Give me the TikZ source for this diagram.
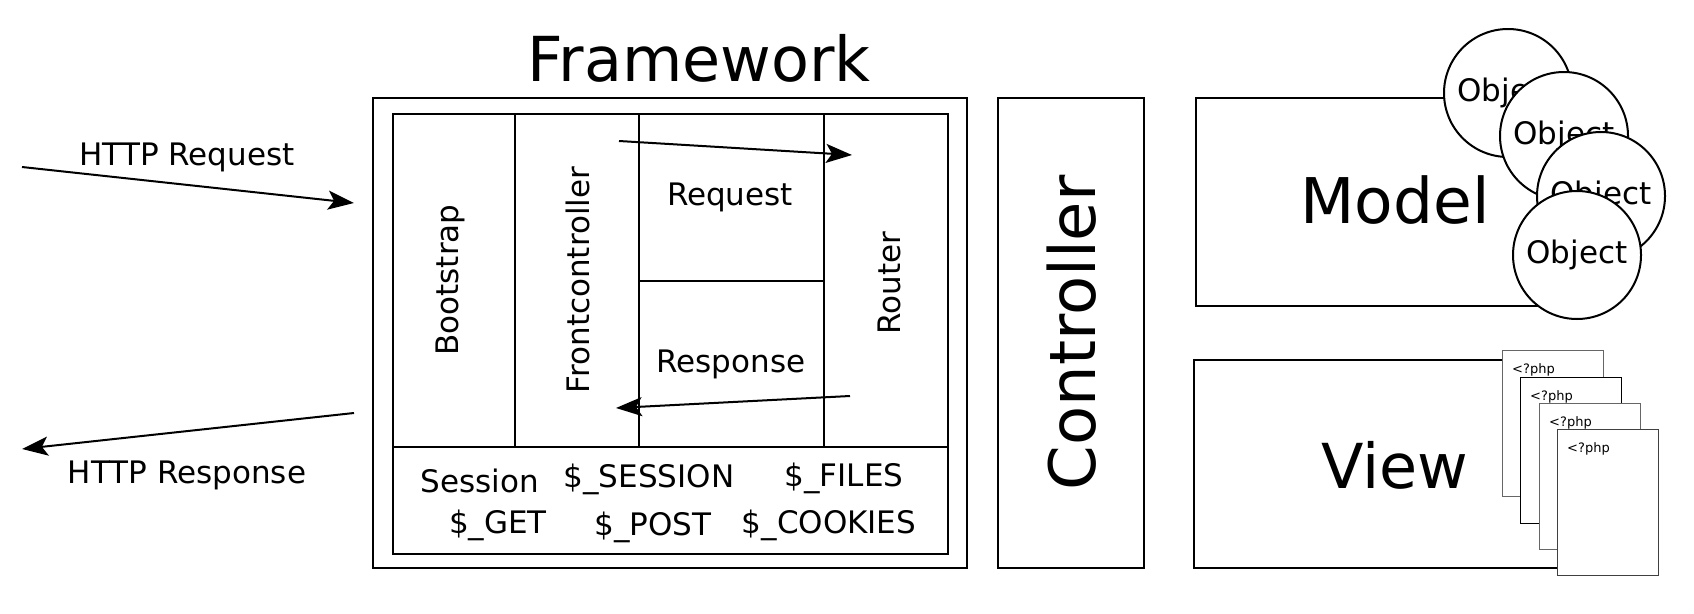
\documentclass[tikz,border=0pt]{standalone}
\usepackage{fontspec}
\setmainfont{DejaVu Sans}
\usetikzlibrary{arrows.meta}
\tikzset{
  box/.style={draw, line width=2pt, inner sep=0pt, anchor=north west},
  grid/.style={line width=2pt},
  lbl/.style={font=\fontsize{31}{31}\selectfont, inner sep=0pt, anchor=base},
  huge/.style={font=\fontsize{62}{62}\selectfont, inner sep=0pt, anchor=base},
  arr/.style={line width=2pt, -{Stealth[length=26pt, width=19pt, inset=6pt]}},
  obj/.style={circle, draw, fill=white, line width=2pt, minimum size=128pt, inner sep=0pt, font=\fontsize{31}{31}\selectfont},
  page/.style={draw, fill=white, line width=1.2pt, inner sep=0pt, anchor=north west, minimum width=101pt, minimum height=146pt},
  php/.style={font=\fontsize{13}{13}\selectfont, inner sep=0pt, anchor=base west}
}
\begin{document}
\begin{tikzpicture}[x=1pt,y=-1pt]
\useasboundingbox (0,0) rectangle (1694,613);
% Framework
\node[huge] (fwt) at (699,81) {Framework};
\node[box, minimum width=594pt, minimum height=470pt] (fw) at (372,97) {};
\node[box, minimum width=555pt, minimum height=440pt] (inner) at (392,113) {};
\draw[grid] (515,113) -- (515,447);
\draw[grid] (639,113) -- (639,447);
\draw[grid] (824,113) -- (824,447);
\draw[grid] (392,447) -- (947,447);
\draw[grid] (639,281) -- (824,281);
\node[lbl, rotate=90] (boot) at (458,280) {Bootstrap};
\node[lbl, rotate=90] (front) at (589,280) {Frontcontroller};
\node[lbl, rotate=90] (router) at (900,283) {Router};
\node[lbl] (req) at (730,205) {Request};
\node[lbl] (resp) at (731,372) {Response};
\node[lbl] (sess) at (480,492) {Session};
\node[lbl] (gsess) at (649,487) {\$\_SESSION};
\node[lbl] (gfiles) at (844,486) {\$\_FILES};
\node[lbl] (gget) at (498,533) {\$\_GET};
\node[lbl] (gpost) at (653,535) {\$\_POST};
\node[lbl] (gcook) at (829,533) {\$\_COOKIES};
\coordinate (a1s) at (619,141);
\coordinate (a1e) at (852,155);
\coordinate (a2s) at (850,396);
\coordinate (a2e) at (616,408);
\draw[arr] (a1s) -- (a1e);
\draw[arr] (a2s) -- (a2e);
% HTTP
\node[lbl] (hreq) at (187,165) {HTTP Request};
\node[lbl] (hresp) at (187,483) {HTTP Response};
\coordinate (h1s) at (22,167);
\coordinate (h1e) at (354,203);
\coordinate (h2s) at (354,413);
\coordinate (h2e) at (22,449);
\draw[arr] (h1s) -- (h1e);
\draw[arr] (h2s) -- (h2e);
% Controller
\node[box, minimum width=146pt, minimum height=470pt] (ctrl) at (997,97) {};
\node[huge, rotate=90, font=\fontsize{64}{64}\selectfont] (ctrlt) at (1095,333) {Controller};
% Model
\node[box, minimum width=395pt, minimum height=208pt] (model) at (1195,97) {};
\node[huge, font=\fontsize{63}{63}\selectfont] (modelt) at (1395,223) {Model};
\node[obj] (o1) at (1508,93) {Object};
\node[obj] (o2) at (1564,136) {Object};
\node[obj] (o3) at (1601,196) {Object};
\node[obj] (o4) at (1577,255) {Object};
% View
\node[box, minimum width=397pt, minimum height=208pt] (view) at (1193,359) {};
\node[huge] (viewt) at (1395,488) {View};
\node[page, draw=black!60] (p1) at (1502,350) {};
\node[php] at ([shift={(10,23)}]p1.north west) {<?php};
\node[page, draw=black] (p2) at (1520,377) {};
\node[php] at ([shift={(10,23)}]p2.north west) {<?php};
\node[page, draw=black!60] (p3) at (1539,403) {};
\node[php] at ([shift={(10,23)}]p3.north west) {<?php};
\node[page, draw=black!75] (p4) at (1557,429) {};
\node[php] at ([shift={(10,23)}]p4.north west) {<?php};
\end{tikzpicture}
\end{document}
